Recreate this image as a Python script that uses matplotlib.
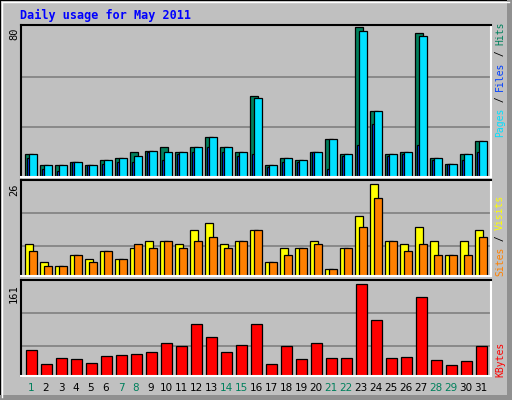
import matplotlib
matplotlib.use("Agg")
import matplotlib.pyplot as plt
from matplotlib.patches import Rectangle
import numpy as np

days = list(range(1, 32))
weekend = [1, 7, 8, 14, 15, 21, 22, 28, 29]
hits = [12, 6, 6, 8, 6, 9, 10, 13, 14, 16, 13, 16, 21, 16, 13, 43, 6, 10, 9, 13, 20, 12, 80, 35, 12, 13, 77, 10, 7, 12, 19]
pages = [12, 6, 6, 8, 6, 9, 10, 11, 14, 13, 13, 16, 21, 16, 13, 42, 6, 10, 9, 13, 20, 12, 78, 35, 12, 13, 75, 10, 7, 12, 19]
files = [10, 4, 3, 8, 6, 7, 8, 8, 13, 9, 12, 13, 16, 13, 11, 12, 5, 8, 8, 13, 4, 11, 17, 28, 11, 12, 17, 9, 7, 9, 13]
visits = [9, 4, 3, 6, 5, 7, 5, 8, 10, 10, 9, 13, 15, 9, 10, 13, 4, 8, 8, 10, 2, 8, 17, 26, 10, 9, 14, 10, 6, 10, 13]
sites = [7, 3, 3, 6, 4, 7, 5, 9, 8, 10, 8, 10, 11, 8, 10, 13, 4, 6, 8, 9, 2, 8, 14, 22, 10, 7, 9, 6, 6, 6, 11]
kbytes = [45, 20, 31, 29, 23, 35, 36, 38, 42, 57, 52, 91, 68, 42, 54, 91, 20, 52, 29, 57, 31, 31, 161, 98, 31, 33, 138, 28, 19, 26, 52]

W, H = 512, 400
GREY = "#C0C0C0"
fig = plt.figure(figsize=(W / 100, H / 100), dpi=100, facecolor=GREY)

# outer bevel
fig.add_artist(Rectangle((0, 0), 1, 1, transform=fig.transFigure, fill=False, ec="black", lw=1.5))
fig.add_artist(plt.Line2D([2 / W, 2 / W], [3 / H, 1 - 2 / H], color="white", lw=1, transform=fig.transFigure))
fig.add_artist(plt.Line2D([2 / W, 1 - 3 / W], [1 - 2 / H, 1 - 2 / H], color="white", lw=1, transform=fig.transFigure))
fig.add_artist(Rectangle((0, 0), 1, 5 / H, transform=fig.transFigure, color="#909090", lw=0))
fig.add_artist(Rectangle((1 - 5 / W, 0), 5 / W, 1, transform=fig.transFigure, color="#909090", lw=0))

fig.text(20 / W, 1 - 15 / H, "Daily usage for May 2011", color="#0000FF", fontsize=8.5,
         family="DejaVu Sans Mono", weight="bold", va="center", ha="left")

L, R = 21, 491
x = np.arange(len(days))
SLOT = 15.0


def make_ax(top, bottom, vmax, ytop, grids):
    ax = fig.add_axes([L / W, 1 - bottom / H, (R - L) / W, (bottom - top) / H])
    ax.set_facecolor(GREY)
    ax.set_xlim((L - 25) / SLOT, (R - 25) / SLOT)
    ph = bottom - top
    ax.set_ylim(0, vmax * ph / (bottom - ytop))
    for g in grids:
        ax.axhline(vmax * g / (bottom - ytop), color="#808080", lw=1.2, zorder=0)
    ax.set_xticks([])
    ax.set_yticks([])
    for s in ["left", "top"]:
        ax.spines[s].set_color("black")
        ax.spines[s].set_linewidth(1.5)
    for s in ["right", "bottom"]:
        ax.spines[s].set_color("white")
        ax.spines[s].set_linewidth(1.5)
    return ax


bw = 8 / SLOT
kw = dict(edgecolor="black", linewidth=0.9, align="edge")

ax1 = make_ax(25, 176.7, 80, 27, [49.4, 100])
ax1.bar(x, hits, width=bw, color="#00805C", **kw)
ax1.bar(x + 2 / SLOT, files, width=2.5 / SLOT, color="#0040FF", **kw)
ax1.bar(x + 4 / SLOT, pages, width=bw, color="#00E0FF", **kw)

ax2 = make_ax(180, 276.3, 26, 184, [30, 63])
ax2.bar(x, visits, width=bw, color="#FFFF00", **kw)
ax2.bar(x + 4 / SLOT, sites, width=bw, color="#FF8000", **kw)

ax3 = make_ax(280, 375.7, 161, 284, [29.4, 62.4])
ax3.bar(x + 1 / SLOT, kbytes, width=10.5 / SLOT, color="#FF0000", **kw)

# left max labels
for ytop, lab in [(27, "80"), (184, "26"), (284, "161")]:
    fig.text(14 / W, 1 - ytop / H, lab, rotation=90, rotation_mode="anchor", ha="right", va="center",
             fontsize=7.5, family="DejaVu Sans Mono", color="black")

# day labels
for i, d in enumerate(days):
    cx = 25 + SLOT * i + 6
    fig.text(cx / W, 1 - 388 / H, str(d), ha="center", va="center", fontsize=7.5,
             family="DejaVu Sans", color="#00805C" if d in weekend else "black")


def vlabel(ystart, parts, cp=5.75):
    y = ystart
    for txt, col in parts:
        fig.text(500 / W, 1 - y / H, txt, rotation=90, rotation_mode="anchor", ha="left", va="center",
                 fontsize=7, family="DejaVu Sans Mono", color=col)
        y -= len(txt) * cp


vlabel(137, [("Pages", "#00E0FF"), (" / ", "black"), ("Files", "#0040FF"), (" / ", "black"), ("Hits", "#00805C")])
vlabel(276, [("Sites", "#FF8000"), (" / ", "black"), ("Visits", "#FFFF00")])
vlabel(377, [("KBytes", "#FF0000")], cp=6.2)

fig.savefig("out.png", dpi=100, facecolor=GREY)
